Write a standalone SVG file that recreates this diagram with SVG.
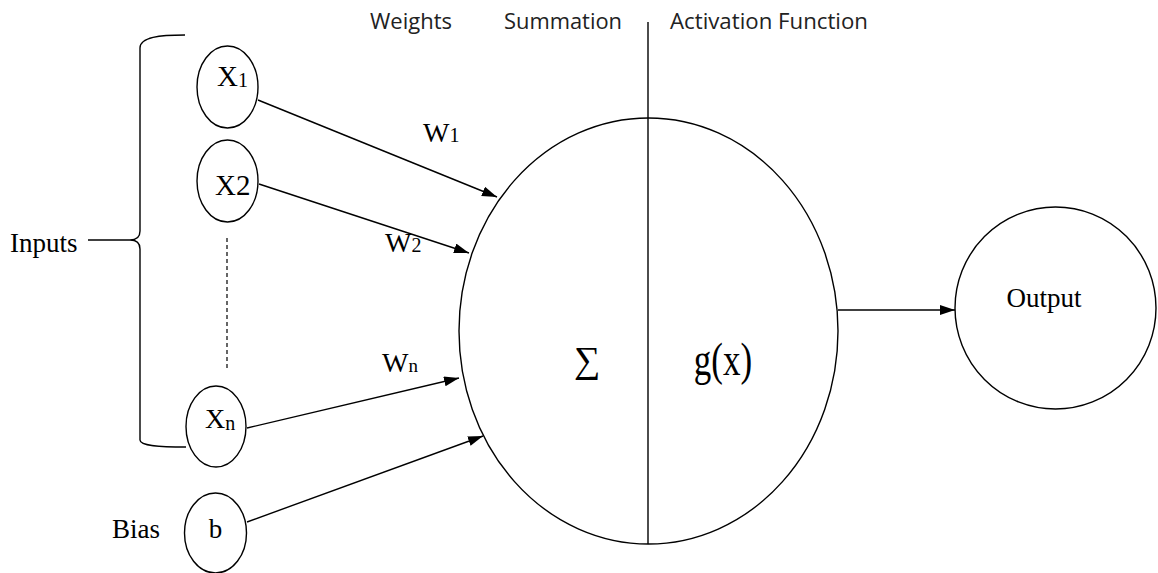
<svg xmlns="http://www.w3.org/2000/svg" width="1158" height="573" viewBox="0 0 1158 573">
<defs>
<marker id="arr" markerUnits="userSpaceOnUse" markerWidth="16" markerHeight="12" refX="15" refY="5" orient="auto">
<path d="M0,0 L15,5 L0,10 Z" fill="#000"/>
</marker>
<style>
.ln{stroke:#000;stroke-width:1.4;fill:none}
.nd{stroke:#000;stroke-width:1.4;fill:#fff}
.tm{font-family:"Liberation Serif","Times New Roman",serif;fill:#000}
.sn{font-family:"Open Sans","Liberation Sans",sans-serif;fill:#222;font-size:21px}
</style>
</defs>
<rect width="1158" height="573" fill="#fff"/>
<g id="headers">
<text class="sn" x="370" y="29" textLength="82" lengthAdjust="spacingAndGlyphs">Weights</text>
<text class="sn" x="504" y="29" textLength="118" lengthAdjust="spacingAndGlyphs">Summation</text>
<text class="sn" x="670" y="29" textLength="198" lengthAdjust="spacingAndGlyphs">Activation Function</text>
</g>
<g id="neuron">
<ellipse class="nd" cx="648.5" cy="331" rx="189.5" ry="213"/>
<line class="ln" x1="648" y1="22" x2="648" y2="544"/>
<text class="tm" x="587" y="372" font-size="37" text-anchor="middle">∑</text>
<text class="tm" x="723" y="0" font-size="35" text-anchor="middle" transform="translate(0,375) scale(1,1.3)">g(x)</text>
</g>
<g id="inputs-brace">
<path class="ln" d="M185,35 C160,35 140,37 140,48 L140,231 C140,237 136,240 130,240 C136,240 140,243 140,249 L140,440 C140,446 160,447 186,447"/>
<line class="ln" x1="88" y1="240" x2="130" y2="240"/>
<text class="tm" x="10" y="252" font-size="27">Inputs</text>
</g>
<g id="x1">
<ellipse class="nd" cx="227.5" cy="87" rx="30.5" ry="41"/>
<text class="tm" x="217" y="86" font-size="29">X<tspan font-size="20" dy="1">1</tspan></text>
</g>
<g id="x2">
<ellipse class="nd" cx="227.5" cy="181" rx="30.5" ry="41"/>
<text class="tm" x="215" y="195" font-size="29">X2</text>
</g>
<g id="dots">
<line x1="227" y1="238" x2="227" y2="370" stroke="#000" stroke-width="1.2" stroke-dasharray="4,3"/>
</g>
<g id="xn">
<ellipse class="nd" cx="216" cy="426.5" rx="30" ry="40.5"/>
<text class="tm" x="205" y="428" font-size="28">X<tspan font-size="20" dy="2">n</tspan></text>
</g>
<g id="bias">
<ellipse class="nd" cx="215.5" cy="533" rx="31" ry="40"/>
<text class="tm" x="215.5" y="538" font-size="27" text-anchor="middle">b</text>
<text class="tm" x="112" y="538" font-size="27">Bias</text>
</g>
<g id="output">
<ellipse class="nd" cx="1055.5" cy="308" rx="100.5" ry="101"/>
<text class="tm" x="1044" y="307" font-size="27" text-anchor="middle">Output</text>
</g>
<g id="connectors">
<line class="ln" x1="258" y1="100" x2="497" y2="197" marker-end="url(#arr)"/>
<line class="ln" x1="259" y1="184" x2="469" y2="253" marker-end="url(#arr)"/>
<line class="ln" x1="247" y1="428" x2="459" y2="378" marker-end="url(#arr)"/>
<line class="ln" x1="247" y1="522" x2="483" y2="436" marker-end="url(#arr)"/>
<line class="ln" x1="838" y1="310" x2="955" y2="310" marker-end="url(#arr)"/>
</g>
<g id="weights">
<text class="tm" x="423" y="142" font-size="28">W<tspan font-size="20">1</tspan></text>
<text class="tm" x="385" y="252" font-size="28">W<tspan font-size="20">2</tspan></text>
<text class="tm" x="382" y="372" font-size="28">W<tspan font-size="19">n</tspan></text>
</g>
</svg>
